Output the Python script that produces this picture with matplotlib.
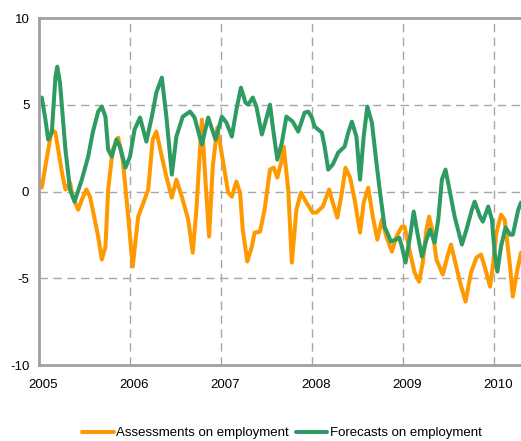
import numpy as np
import matplotlib
matplotlib.use("Agg")
import matplotlib.pyplot as plt
import matplotlib.transforms as mtransforms

plt.rcParams['font.family'] = ['Liberation Sans', 'DejaVu Sans']
plt.rcParams['axes.unicode_minus'] = False

# Assessments on employment (fecha en años decimales, valor)
assess_t = [2005.03, 2005.08, 2005.14, 2005.18, 2005.21, 2005.25, 2005.29, 2005.34, 2005.37, 2005.43,
            2005.47, 2005.52, 2005.56, 2005.59, 2005.65, 2005.69, 2005.73, 2005.76, 2005.81, 2005.87,
            2005.92, 2005.98, 2006.03, 2006.09, 2006.14, 2006.20, 2006.25, 2006.29, 2006.35, 2006.40,
            2006.46, 2006.51, 2006.57, 2006.64, 2006.69, 2006.73, 2006.79, 2006.82, 2006.87, 2006.91,
            2006.96, 2007.02, 2007.08, 2007.12, 2007.17, 2007.21, 2007.24, 2007.29, 2007.34, 2007.37,
            2007.43, 2007.48, 2007.54, 2007.58, 2007.62, 2007.67, 2007.69, 2007.74, 2007.78, 2007.83,
            2007.88, 2007.94, 2008.01, 2008.05, 2008.12, 2008.19, 2008.23, 2008.28, 2008.33, 2008.37,
            2008.42, 2008.47, 2008.53, 2008.57, 2008.62, 2008.67, 2008.72, 2008.77, 2008.82, 2008.88,
            2008.93, 2008.99, 2009.02, 2009.08, 2009.13, 2009.18, 2009.22, 2009.26, 2009.29, 2009.33,
            2009.37, 2009.44, 2009.49, 2009.53, 2009.57, 2009.63, 2009.69, 2009.75, 2009.81, 2009.86,
            2009.90, 2009.96, 2009.99, 2010.03, 2010.08, 2010.12, 2010.18, 2010.21, 2010.26, 2010.30]
assess_v = [0.23, 1.8, 3.57, 3.4, 2.42, 1.15, 0.12, 0.52, -0.29, -1.04,
            -0.46, 0.12, -0.29, -1.04, -2.59, -3.92, -3.17, 0.12, 2.42, 3.11,
            1.84, -1.44, -4.32, -1.44, -0.75, 0.12, 3.0, 3.46, 2.02, 0.86,
            -0.35, 0.69, -0.29, -1.61, -3.52, -1.04, 4.15, 1.44, -2.59, 1.44,
            3.69, 1.84, -0.06, -0.29, 0.58, -0.06, -2.19, -4.03, -3.17, -2.36,
            -2.31, -1.04, 1.27, 1.38, 0.81, 1.84, 2.59, 0.12, -4.09, -1.04,
            -0.06, -0.63, -1.21, -1.21, -0.86, 0.12, -0.63, -1.50, -0.06, 1.38,
            0.81, -0.46, -2.36, -0.63, 0.23, -1.44, -2.77, -1.61, -2.59, -3.46,
            -2.59, -2.02, -2.02, -3.52, -4.67, -5.19, -4.09, -2.19, -1.44, -2.36,
            -3.92, -4.78, -3.75, -3.05, -3.92, -5.24, -6.34, -4.67, -3.80, -3.63,
            -4.32, -5.48, -4.32, -2.36, -1.33, -1.61, -4.32, -6.05, -4.50, -3.52]

# Forecasts on employment
fore_t = [2005.03, 2005.07, 2005.10, 2005.14, 2005.18, 2005.20, 2005.23, 2005.29, 2005.34, 2005.39,
          2005.47, 2005.54, 2005.59, 2005.65, 2005.69, 2005.73, 2005.76, 2005.80, 2005.85, 2005.89,
          2005.95, 2006.00, 2006.05, 2006.11, 2006.18, 2006.24, 2006.29, 2006.35, 2006.40, 2006.46,
          2006.51, 2006.58, 2006.66, 2006.71, 2006.79, 2006.86, 2006.94, 2007.01, 2007.06, 2007.12,
          2007.17, 2007.22, 2007.27, 2007.30, 2007.35, 2007.39, 2007.45, 2007.49, 2007.54, 2007.57,
          2007.62, 2007.67, 2007.72, 2007.79, 2007.85, 2007.92, 2007.96, 2008.00, 2008.03, 2008.11,
          2008.14, 2008.18, 2008.23, 2008.29, 2008.36, 2008.40, 2008.44, 2008.49, 2008.53, 2008.57,
          2008.61, 2008.66, 2008.71, 2008.75, 2008.80, 2008.87, 2008.92, 2008.96, 2008.99, 2009.03,
          2009.08, 2009.12, 2009.16, 2009.21, 2009.26, 2009.30, 2009.35, 2009.39, 2009.43, 2009.47,
          2009.52, 2009.57, 2009.65, 2009.70, 2009.76, 2009.79, 2009.85, 2009.88, 2009.94, 2009.98,
          2010.01, 2010.04, 2010.08, 2010.13, 2010.18, 2010.21, 2010.27, 2010.30]
fore_v = [5.42, 4.15, 3.0, 3.4, 6.63, 7.2, 6.28, 2.42, 0.12, -0.58,
          0.69, 2.02, 3.40, 4.61, 4.90, 4.32, 2.42, 2.02, 3.0, 2.59,
          1.38, 2.02, 3.57, 4.27, 2.88, 4.32, 5.71, 6.57, 4.32, 0.98,
          3.17, 4.32, 4.61, 4.27, 2.71, 4.27, 3.0, 4.32, 3.98, 3.17,
          4.73, 5.99, 5.13, 5.01, 5.42, 4.90, 3.29, 4.03, 5.01, 3.75,
          1.84, 2.82, 4.32, 4.03, 3.46, 4.55, 4.61, 4.27, 3.75, 3.40,
          2.59, 1.27, 1.56, 2.25, 2.59, 3.40, 4.03, 3.17, 0.69, 3.17,
          4.90, 3.98, 1.67, -0.06, -2.02, -2.88, -2.77, -2.65, -3.17, -4.09,
          -2.59, -1.15, -2.36, -3.75, -2.77, -2.19, -2.94, -1.61, 0.69, 1.27,
          -0.06, -1.44, -3.05, -2.19, -1.04, -0.58, -1.44, -1.73, -0.86, -1.61,
          -3.52, -4.61, -3.17, -2.07, -2.48, -2.48, -1.04, -0.63]

years = [2005, 2006, 2007, 2008, 2009, 2010]
yticks = [-10, -5, 0, 5, 10]

fig = plt.figure(figsize=(5.21, 4.41), dpi=100)
ax = fig.add_axes([0.075, 0.172, 0.925, 0.787])

ax.plot(assess_t, assess_v, color='#FF9900', linewidth=2.9,
        solid_joinstyle='round', solid_capstyle='round', label='Assessments on employment')
ax.plot(fore_t, fore_v, color='#2E9B63', linewidth=2.9,
        solid_joinstyle='round', solid_capstyle='round', label='Forecasts on employment')

ax.set_xlim(2005, 2010.30)
ax.set_ylim(-10, 10)
ax.set_xticks(years)
ax.set_xticklabels([str(y) for y in years])
ax.set_yticks(yticks)
ax.tick_params(length=0, labelsize=9.5, colors='black')
ax.tick_params(axis='x', pad=10)
ax.tick_params(axis='y', pad=7)

# etiquetas del eje x algo desplazadas a la derecha
offset = mtransforms.ScaledTranslation(4 / 100, 0, fig.dpi_scale_trans)
for lbl in ax.get_xticklabels():
    lbl.set_transform(lbl.get_transform() + offset)

# rejilla discontinua
for y in [-5, 0, 5]:
    ax.axhline(y, color='#A6A6A6', linewidth=1, dashes=(6, 4), zorder=0)
for x in years[1:]:
    ax.axvline(x, color='#A6A6A6', linewidth=1, dashes=(6, 4), zorder=0)

for side in ['left', 'bottom', 'top']:
    ax.spines[side].set_color('#A0A0A0')
    ax.spines[side].set_linewidth(2)
ax.spines['right'].set_visible(False)

fig.legend(loc='center', bbox_to_anchor=(0.541, 0.018), ncol=2, frameon=False,
           fontsize=9.5, handlelength=2.4, handletextpad=0.2, columnspacing=0.5)

plt.savefig('out.png', dpi=100)
